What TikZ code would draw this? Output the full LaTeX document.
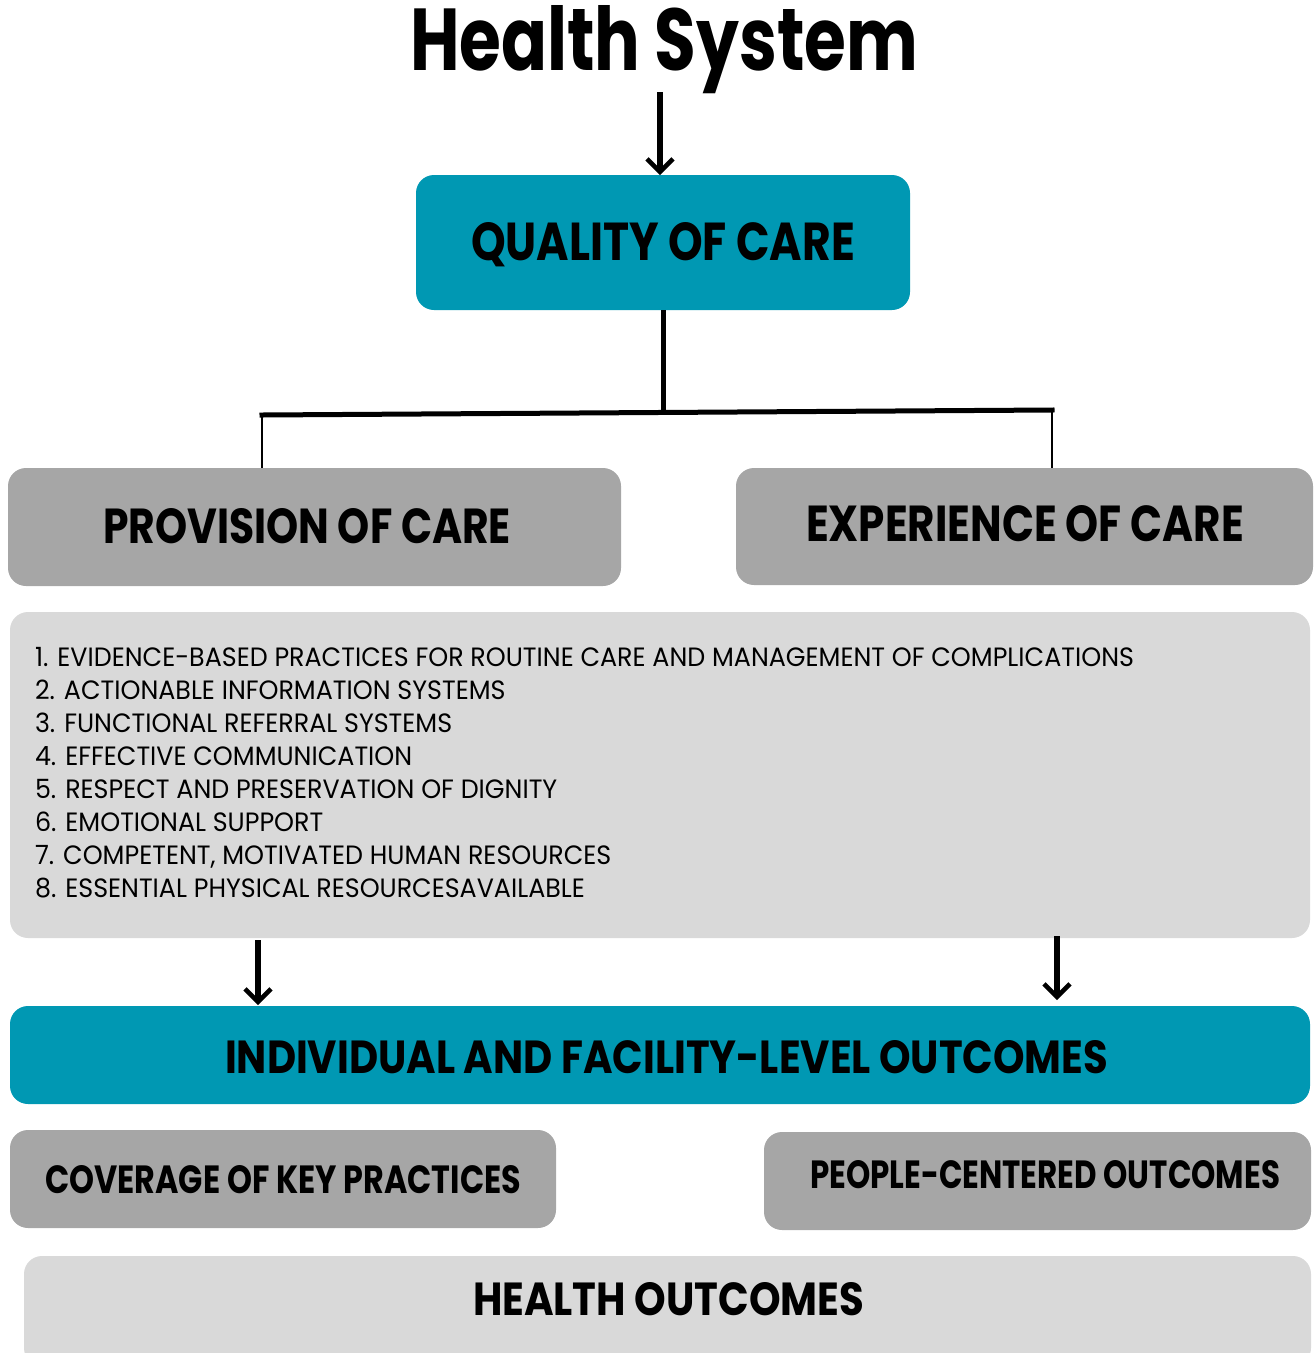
\documentclass[tikz,border=0pt]{standalone}
\usepackage{fontspec}
\usepackage{graphicx}
\usetikzlibrary{arrows.meta}
\newfontfamily\hfont{Poppins}
\newfontfamily\lfont{Poppins}
\definecolor{tealbox}{RGB}{0,152,179}
\definecolor{gmid}{RGB}{166,166,166}
\definecolor{glight}{RGB}{217,217,217}
\newcommand\fitb[3]{\resizebox{#1pt}{#2pt}{\hfont\bfseries #3}}
\newlength\Lw
\newlength\Lh
\settowidth\Lw{\lfont 1. EVIDENCE-BASED PRACTICES FOR ROUTINE CARE AND MANAGEMENT OF COMPLICATIONS}
\settoheight\Lh{\lfont E}
\pgfmathsetmacro\sxf{1099/\Lw}
\pgfmathsetmacro\syf{18.5/\Lh}
\newcommand\li[1]{\scalebox{\sxf}[\syf]{\lfont #1}}
\tikzset{
  box/.style={rectangle, rounded corners=18pt, inner sep=0pt, outer sep=0pt, draw=none},
  lab/.style={inner sep=0pt, outer sep=0pt, anchor=base west},
  arr/.style={line width=5.5pt, -{Straight Barb[length=13pt,width=26pt,line width=4.5pt]}},
  trunk/.style={line width=5pt},
  twig/.style={line width=1.5pt}
}
\begin{document}
\begin{tikzpicture}[x=1pt,y=-1pt]
\useasboundingbox (0,0) rectangle (1314,1353);
\clip (0,0) rectangle (1314,1353);
% boxes
\node[box, fill=tealbox, minimum width=494, minimum height=135] (qoc) at (663,242.5) {};
\node[box, fill=gmid, minimum width=613, minimum height=118] (prov) at (314.5,527) {};
\node[box, fill=gmid, minimum width=577, minimum height=117] (exp) at (1024.5,526.5) {};
\node[box, fill=glight, minimum width=1300, minimum height=326] (list) at (660,775) {};
\node[box, fill=tealbox, minimum width=1300, minimum height=98] (ind) at (660,1055) {};
\node[box, fill=gmid, minimum width=546, minimum height=98] (cov) at (283,1179) {};
\node[box, fill=gmid, minimum width=547, minimum height=98] (ppl) at (1037.5,1181) {};
\node[box, fill=glight, minimum width=1287, minimum height=110] (hout) at (667.5,1311) {};
% labels
\node[lab] (title) at (410,70) {\fitb{508}{65}{Health System}};
\node[lab] (qlab) at (471,260) {\fitb{384}{38}{QUALITY OF CARE}};
\node[lab] (plab) at (103,543) {\fitb{408}{35}{PROVISION OF CARE}};
\node[lab] (elab) at (806,541) {\fitb{438}{36}{EXPERIENCE OF CARE}};
\node[lab] (ilab) at (225,1073) {\fitb{883}{33}{INDIVIDUAL AND FACILITY-LEVEL OUTCOMES}};
\node[lab] (clab) at (45,1193) {\fitb{476}{28}{COVERAGE OF KEY PRACTICES}};
\node[lab] (pplab) at (810,1188) {\fitb{470}{28}{PEOPLE-CENTERED OUTCOMES}};
\node[lab] (hlab) at (473,1315) {\fitb{391}{33}{HEALTH OUTCOMES}};
% list
\node[lab] (l1) at (35,666) {\li{1. EVIDENCE-BASED PRACTICES FOR ROUTINE CARE AND MANAGEMENT OF COMPLICATIONS}};
\node[lab] (l2) at (35,699) {\li{2. ACTIONABLE INFORMATION SYSTEMS}};
\node[lab] (l3) at (35,732) {\li{3. FUNCTIONAL REFERRAL SYSTEMS}};
\node[lab] (l4) at (35,765) {\li{4. EFFECTIVE COMMUNICATION}};
\node[lab] (l5) at (35,798) {\li{5. RESPECT AND PRESERVATION OF DIGNITY}};
\node[lab] (l6) at (35,831) {\li{6. EMOTIONAL SUPPORT}};
\node[lab] (l7) at (35,864) {\li{7. COMPETENT, MOTIVATED HUMAN RESOURCES}};
\node[lab] (l8) at (35,897) {\li{8. ESSENTIAL PHYSICAL RESOURCESAVAILABLE}};
% connectors
\coordinate (a1) at (660,92);
\draw[arr] (a1) -- (a1 |- qoc.north);
\coordinate (jn) at (663,412);
\coordinate (hl) at (262,415);
\coordinate (hr) at (1052,410);
\draw[trunk] (qoc.south -| jn) -- (jn);
\draw[trunk, line cap=rect] (hl) -- (hr);
\draw[twig] (hl) -- (hl |- prov.north);
\draw[twig] (hr) -- (hr |- exp.north);
\coordinate (al) at (258,940);
\coordinate (ar) at (1057,936);
\draw[arr] (al) -- ([yshift=1pt]al |- ind.north);
\draw[arr] (ar) -- ([yshift=6pt]ar |- ind.north);
\end{tikzpicture}
\end{document}
